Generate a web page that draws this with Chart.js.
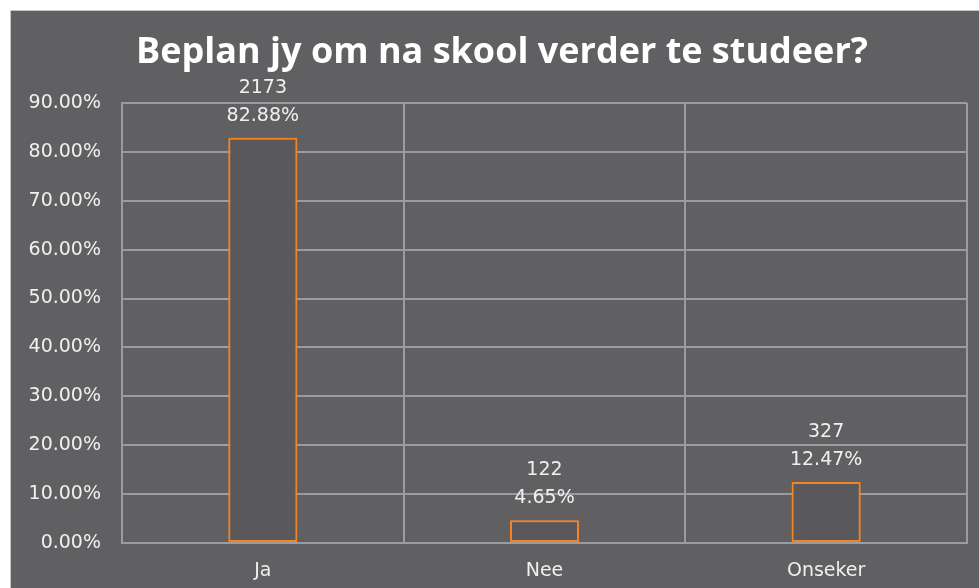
<!DOCTYPE html>
<html lang="en">
<head>
    <meta charset="UTF-8">
    <title>Beplan jy om na skool verder te studeer?</title>
    <script src="https://cdn.jsdelivr.net/npm/chart.js"></script>
    <style>
        * {
            box-sizing: border-box;
            margin: 0;
            padding: 0;
        }

        body {
            background-color: #fff;
            width: 979px;
            height: 588px;
            overflow: hidden;
        }

        .chart-box {
            position: absolute;
            left: 10px;
            top: 10px;
            width: 969px;
            height: 578px;
            background-color: #606062;
            border-top: 1px solid #c8c8c8;
            border-left: 1px solid #c8c8c8;
        }
    </style>
</head>
<body>
    <div class="chart-box">
        <canvas id="surveyChart"></canvas>
    </div>

    <script>
        const categories = ['Ja', 'Nee', 'Onseker'];
        const percentages = [82.88, 4.65, 12.47];
        const counts = [2173, 122, 327];
        const yTicks = [0, 10, 20, 30, 40, 50, 60, 70, 80, 90];
        const titleText = 'Beplan jy om na skool verder te studeer?';

        const fontFamily = '"DejaVu Sans", sans-serif';
        const titleFont = '"Open Sans", "DejaVu Sans", sans-serif';
        const textColor = '#f0f0f0';
        const gridColor = '#9c9c9e';

        // title drawn by hand, it sits a bit right of the canvas centre
        const titlePlugin = {
            id: 'customTitle',
            afterDraw(chart) {
                const ctx = chart.ctx;
                ctx.save();
                ctx.fillStyle = '#ffffff';
                ctx.font = 'bold 36px ' + titleFont;
                ctx.textAlign = 'center';
                ctx.textBaseline = 'middle';
                ctx.fillText(titleText, 491, 42);
                ctx.restore();
            }
        };

        // soft orange glow round the bars
        const glowPlugin = {
            id: 'glow',
            beforeDatasetsDraw(chart) {
                const ctx = chart.ctx;
                ctx.save();
                ctx.shadowColor = 'rgba(245, 140, 50, 0.7)';
                ctx.shadowBlur = 9;
            },
            afterDatasetsDraw(chart) {
                chart.ctx.restore();
            }
        };

        // count and percent above each bar
        const barLabels = {
            id: 'barLabels',
            afterDatasetsDraw(chart) {
                const ctx = chart.ctx;
                const meta = chart.getDatasetMeta(0);
                ctx.save();
                ctx.fillStyle = textColor;
                ctx.font = '19px ' + fontFamily;
                ctx.textAlign = 'center';
                ctx.textBaseline = 'middle';
                meta.data.forEach((bar, i) => {
                    ctx.fillText(percentages[i].toFixed(2) + '%', bar.x, bar.y - 22);
                    ctx.fillText(String(counts[i]), bar.x, bar.y - 50);
                });
                ctx.restore();
            }
        };

        const ctx = document.getElementById('surveyChart').getContext('2d');

        const chart = new Chart(ctx, {
            type: 'bar',
            data: {
                labels: categories,
                datasets: [{
                    data: percentages,
                    backgroundColor: '#59595b',
                    borderColor: '#f5821f',
                    borderWidth: 2,
                    borderSkipped: false,
                    barPercentage: 0.49,
                    categoryPercentage: 0.5
                }]
            },
            options: {
                responsive: true,
                maintainAspectRatio: false,
                animation: false,
                layout: {
                    padding: { left: 0, right: 12, top: 92, bottom: 0 }
                },
                scales: {
                    x: {
                        grid: {
                            color: gridColor,
                            lineWidth: 2,
                            drawTicks: false,
                            offset: true
                        },
                        border: { color: gridColor, width: 2 },
                        ticks: {
                            color: textColor,
                            font: { family: fontFamily, size: 19 },
                            padding: 17
                        },
                        afterFit(scale) {
                            scale.height = 45;
                        }
                    },
                    y: {
                        min: 0,
                        max: 90,
                        afterBuildTicks(scale) {
                            scale.ticks = yTicks.map(v => ({ value: v }));
                        },
                        grid: {
                            color: gridColor,
                            lineWidth: 2,
                            drawTicks: false
                        },
                        border: { color: gridColor, width: 2 },
                        ticks: {
                            color: textColor,
                            font: { family: fontFamily, size: 19 },
                            padding: 21,
                            callback: v => v.toFixed(2) + '%'
                        },
                        afterFit(scale) {
                            scale.width = 111;
                        }
                    }
                },
                plugins: {
                    legend: { display: false },
                    tooltip: { enabled: false },
                    title: { display: false }
                }
            },
            plugins: [glowPlugin, barLabels, titlePlugin]
        });
    </script>
</body>
</html>
